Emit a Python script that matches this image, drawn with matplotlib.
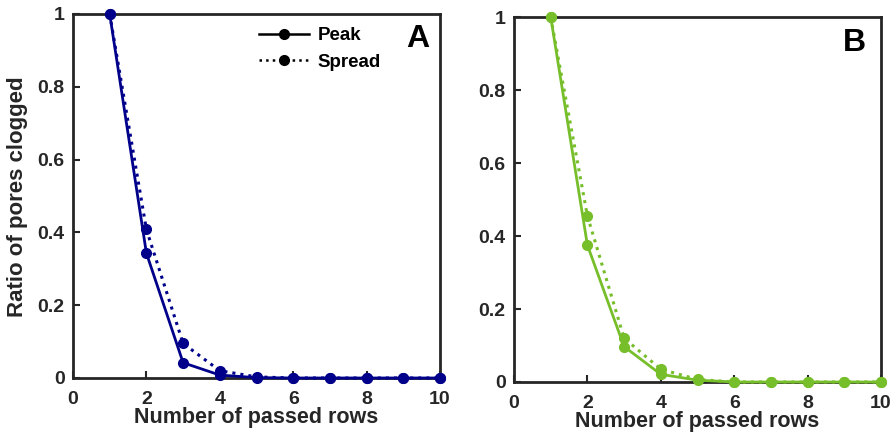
import matplotlib
matplotlib.use("Agg")
import matplotlib.pyplot as plt
from matplotlib.lines import Line2D

plt.rcParams['font.family'] = ['Liberation Sans', 'DejaVu Sans']
plt.rcParams['font.weight'] = 'bold'

rows = [1, 2, 3, 4, 5, 6, 7, 8, 9, 10]

# Panel A
peak_a = [1.0, 0.343, 0.042, 0.008, 0.001, 0, 0, 0, 0, 0]
spread_a = [1.0, 0.408, 0.095, 0.020, 0.003, 0, 0, 0, 0, 0]

# Panel B
peak_b = [1.0, 0.375, 0.097, 0.021, 0.005, 0, 0, 0, 0, 0]
spread_b = [1.0, 0.455, 0.120, 0.035, 0.007, 0, 0, 0, 0, 0]

xticks = [0, 2, 4, 6, 8, 10]
yticks = [0, 0.2, 0.4, 0.6, 0.8, 1]
ytick_labels = ['0', '0.2', '0.4', '0.6', '0.8', '1']

blue = '#00008B'
green = '#77BE2B'
spine_c = '#262626'

W, H = 893, 442
fig = plt.figure(figsize=(W / 100, H / 100), dpi=100)

def make_axes(left, top, right, bottom):
    return fig.add_axes([left / W, 1 - bottom / H, (right - left) / W, (bottom - top) / H])

ax_a = make_axes(73, 14, 440, 378)
ax_b = make_axes(514, 17, 881, 382)

def style(ax):
    ax.set_xlim(0, 10)
    ax.set_ylim(0, 1)
    ax.set_xticks(xticks)
    ax.set_yticks(yticks)
    ax.set_yticklabels(ytick_labels)
    for s in ax.spines.values():
        s.set_color(spine_c)
        s.set_linewidth(2.0)
    ax.tick_params(direction='in', length=5, width=1.5, color=spine_c,
                   labelsize=14, labelcolor='#262626')
    ax.tick_params(axis='x', pad=9)
    ax.tick_params(axis='y', pad=6)
    for lab in ax.get_xticklabels() + ax.get_yticklabels():
        lab.set_fontweight('bold')
    ax.set_xlabel('Number of passed rows', fontsize=15.5, fontweight='bold',
                  color='#262626', labelpad=0)

for ax, pk, sp, c in [(ax_a, peak_a, spread_a, blue),
                      (ax_b, peak_b, spread_b, green)]:
    ax.plot(rows, sp, ls=':', lw=2.2, color=c, marker='o', ms=7, clip_on=False, zorder=3)
    ax.plot(rows, pk, ls='-', lw=2.0, color=c, marker='o', ms=7, clip_on=False, zorder=4)
    style(ax)

ax_a.text(0.97, 0.93, 'A', transform=ax_a.transAxes, fontsize=23, fontweight='bold',
          ha='right', va='center', color='black')
ax_b.text(0.96, 0.93, 'B', transform=ax_b.transAxes, fontsize=23, fontweight='bold',
          ha='right', va='center', color='black')

ax_a.set_ylabel('Ratio of pores clogged', fontsize=16, fontweight='bold',
                color='#262626')
ax_a.yaxis.set_label_coords(-0.123, 0.497)

handles = [Line2D([], [], color='black', ls='-', lw=1.8, marker='o', ms=7),
           Line2D([], [], color='black', ls=':', lw=1.8, marker='o', ms=7)]
ax_a.legend(handles, ['Peak', 'Spread'], loc='upper right', bbox_to_anchor=(0.885, 1.01),
            frameon=False, handlelength=2.7, handletextpad=0.45,
            labelspacing=0.5, prop={'weight': 'bold', 'size': 13.5})

fig.savefig('out.png', dpi=100)
